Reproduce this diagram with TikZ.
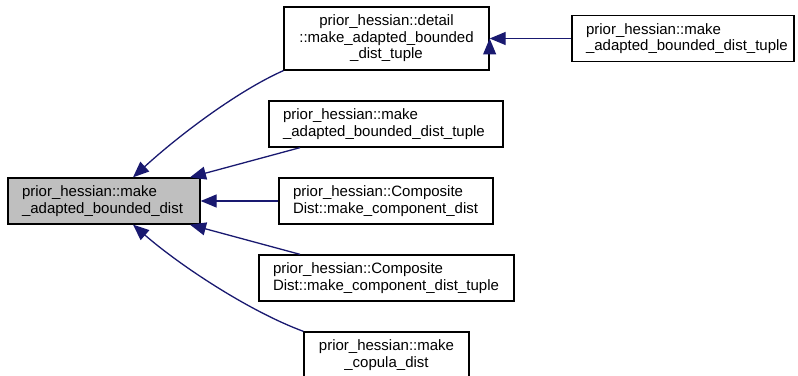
\documentclass[tikz,border=0pt]{standalone}
\usepackage{fontspec}
\setmainfont{Liberation Sans}
\usetikzlibrary{arrows.meta}

\definecolor{callblue}{RGB}{25,25,112}

\begin{document}
\begin{tikzpicture}[x=1pt, y=1pt]

\useasboundingbox (0,0) rectangle (798,375);

\def\BoxHeight{46pt}
\def\BoxPad{14pt}

% Styles
\tikzstyle{module} =
	[draw, line width=1.3pt, align=left, inner xsep=\BoxPad, inner ysep=0pt,
	 minimum height=\BoxHeight, font=\fontsize{15}{16.5}\selectfont]

\tikzstyle{current} =
	[module, fill=gray!50]

\tikzstyle{centered} =
	[module, align=center]

\tikzstyle{call} =
	[draw=callblue, line width=1.3pt,
	 {Triangle[length=16pt, width=13pt, fill=callblue]}-]

% Modules

\node (AdaptedBoundedDist) at (104, 174)
	[current, text width=164pt]
	{prior\_hessian::make\\\_adapted\_bounded\_dist};

\node (DetailTuple) at (386.5, 336.5)
	[centered, text width=177pt, minimum height=63pt]
	{prior\_hessian::detail\\::make\_adapted\_bounded\\\_dist\_tuple};
\node (MakeTuple) at (683, 336.5)
	[module, text width=194pt]
	{prior\_hessian::make\\\_adapted\_bounded\_dist\_tuple};

\node (MakeTupleDirect) at (386, 251)
	[module, text width=206pt]
	{prior\_hessian::make\\\_adapted\_bounded\_dist\_tuple};
\node (ComponentDist) at (386, 174)
	[module, text width=186pt]
	{prior\_hessian::Composite\\Dist::make\_component\_dist};
\node (ComponentDistTuple) at (386.5, 97)
	[module, text width=227pt]
	{prior\_hessian::Composite\\Dist::make\_component\_dist\_tuple};
\node (CopulaDist) at (386.5, 20)
	[centered, text width=137pt]
	{prior\_hessian::make\\\_copula\_dist};

% Edges

\draw[call] ([xshift=29pt]AdaptedBoundedDist.north)
	.. controls +(47,43) and +(-45,-20) .. (DetailTuple.south west);

\path[call]
	([xshift=86pt]AdaptedBoundedDist.north) edge ([xshift=-86pt]MakeTupleDirect.south)
	(AdaptedBoundedDist.east) edge (ComponentDist.west)
	([xshift=86pt]AdaptedBoundedDist.south) edge ([xshift=-86.5pt]ComponentDistTuple.north)
	(DetailTuple.east) edge (MakeTuple.west);

\draw[call] ([xshift=29pt]AdaptedBoundedDist.south)
	.. controls +(47,-41) and +(-54,20) .. (CopulaDist.north west);

\end{tikzpicture}
\end{document}
